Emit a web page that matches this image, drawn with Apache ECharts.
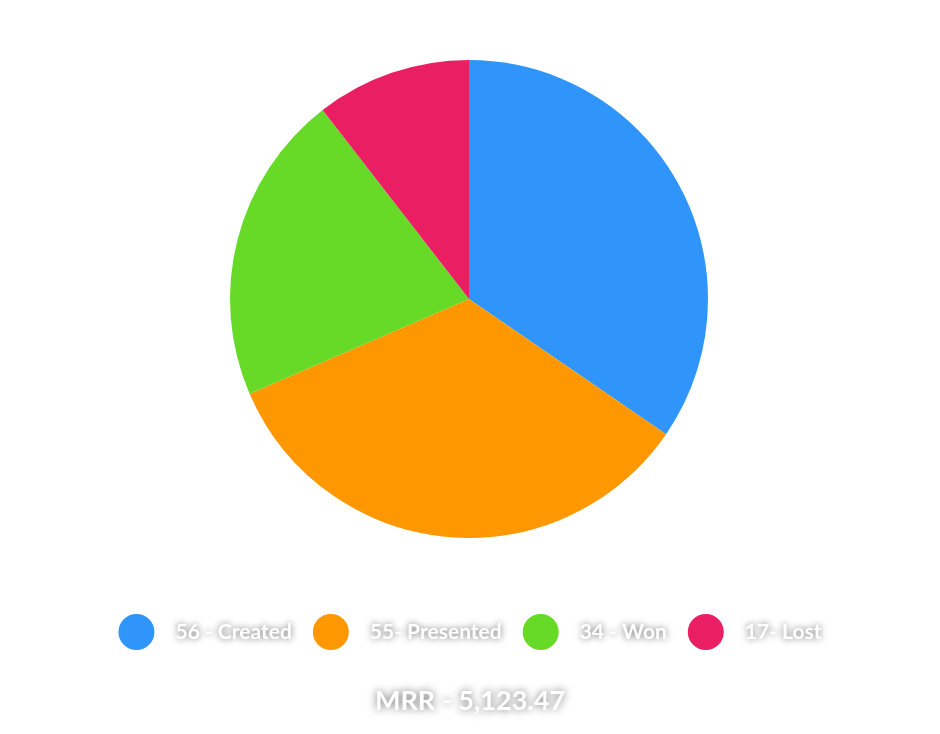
<!DOCTYPE html>
<html><head><meta charset="utf-8">
<script src="https://cdn.jsdelivr.net/npm/echarts@6/dist/echarts.min.js"></script>
<style>html,body{margin:0;padding:0;background:#fff}#c{width:940px;height:734px}</style>
</head><body><div id="c"></div>
<script>
const categories = ['56 - Created', '55- Presented', '34 - Won', '17- Lost'];
const values = [56, 55, 34, 17];
const colors = ['#3095FB', '#FF9800', '#66DA26', '#E91E63'];
const titleText = 'MRR - 5,123.47';

const chart = echarts.init(document.getElementById('c'));
chart.setOption({
  animation: false,
  color: colors,
  title: {
    text: titleText, left: 'center', top: 683,
    textStyle: { color: '#fff', fontSize: 27, fontWeight: 'bold', fontFamily: 'Lato',
      textShadowColor: 'rgba(0,0,0,0.6)', textShadowBlur: 8 }
  },
  legend: {
    data: categories, bottom: 79, left: 'center', icon: 'circle',
    itemWidth: 36, itemHeight: 36, itemGap: 21,
    textStyle: { color: '#fff', fontSize: 21, fontWeight: 'bold', fontFamily: 'Lato',
      padding: [0, 0, 0, 16],
      textShadowColor: 'rgba(0,0,0,0.6)', textShadowBlur: 7 }
  },
  series: [{
    type: 'pie', center: [469, 299], radius: 239, startAngle: 90, clockwise: true,
    label: { show: false }, labelLine: { show: false },
    data: categories.map((n, i) => ({ name: n, value: values[i] }))
  }]
});
</script></body></html>
